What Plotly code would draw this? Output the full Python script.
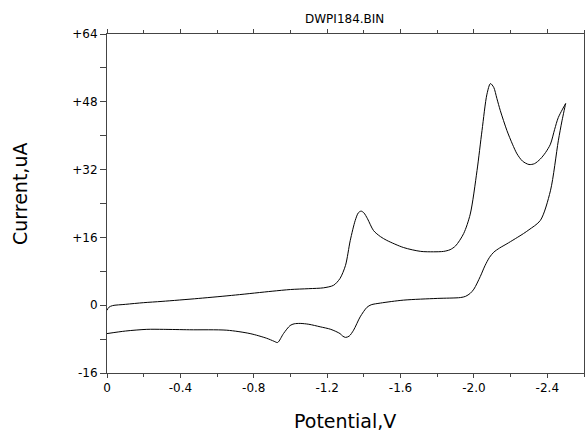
import plotly.graph_objects as go

# Forward scan (0 V -> -2.5 V)
fwd_potential = [0, -0.01, -0.03, -0.1, -0.2, -0.3, -0.5, -0.7, -0.9, -1.0, -1.1, -1.18, -1.235,
                 -1.27, -1.30, -1.326, -1.353, -1.37, -1.385, -1.40, -1.42, -1.453, -1.49, -1.525,
                 -1.617, -1.71, -1.78, -1.835, -1.87, -1.90, -1.944, -1.98, -2.017, -2.044,
                 -2.071, -2.09, -2.108, -2.125, -2.144, -2.18, -2.21, -2.235, -2.265, -2.30,
                 -2.33, -2.362, -2.39, -2.417, -2.44, -2.46, -2.50]
fwd_current = [-1.2, -0.5, -0.1, 0.2, 0.6, 0.9, 1.6, 2.4, 3.3, 3.7, 3.9, 4.1, 4.7,
               6.3, 9.4, 15.3, 20.0, 21.8, 22.2, 21.8, 20.4, 17.6, 16.2, 15.3,
               13.6, 12.7, 12.6, 12.7, 13.1, 14.0, 16.9, 21.5, 31.8, 41.2,
               49.8, 52.3, 51.4, 48.8, 45.9, 41.2, 38.0, 35.7, 34.0, 33.2,
               33.4, 34.5, 36.0, 38.0, 41.5, 44.3, 47.6]

# Reverse scan (-2.5 V -> 0 V)
rev_potential = [-2.50, -2.48, -2.46, -2.417, -2.362, -2.30, -2.27, -2.18, -2.14, -2.108, -2.085,
                 -2.06, -2.035, -2.00, -1.98, -1.955, -1.926, -1.80, -1.617, -1.49, -1.44, -1.417,
                 -1.38, -1.344, -1.32, -1.30, -1.285, -1.27, -1.22, -1.162, -1.10, -1.053, -1.02,
                 -0.998, -0.962, -0.93, -0.91, -0.87, -0.78, -0.653, -0.45, -0.307, -0.217, -0.1, 0]
rev_current = [47.6, 43.5, 38.8, 27.0, 20.0, 17.8, 16.9, 14.5, 13.5, 12.5, 11.3,
               9.3, 6.8, 3.8, 2.8, 2.1, 1.8, 1.6, 1.2, 0.5, 0.1, -0.5,
               -2.75, -5.9, -7.3, -7.6, -7.3, -6.7, -5.7, -5.1, -4.5, -4.3, -4.4,
               -4.8, -6.7, -8.8, -8.5, -7.8, -6.7, -5.9, -5.8, -5.7, -5.7, -6.1, -6.7]

x_tick_vals = [0, -0.4, -0.8, -1.2, -1.6, -2.0, -2.4]
x_tick_text = ["0", "-0.4", "-0.8", "-1.2", "-1.6", "-2.0", "-2.4"]
y_tick_vals = [-16, 0, 16, 32, 48, 64]
y_tick_text = ["-16", "0", "+16", "+32", "+48", "+64"]

title_text = "DWPI184.BIN"
x_title = "Potential,V"
y_title = "Current,uA"

W, H = 587, 432
L, R, T, B = 107, 3, 34, 59

fig = go.Figure()
fig.add_trace(go.Scatter(x=fwd_potential + rev_potential, y=fwd_current + rev_current,
                         mode="lines", line=dict(color="black", width=1, shape="spline", smoothing=0.8),
                         hoverinfo="skip", showlegend=False))

font_family = "DejaVu Sans, Liberation Sans, Arial, sans-serif"
axis_col = "#444444"

plot_w = W - L - R
plot_h = H - T - B
def px_to_paper(px, py):
    return (px - L) / plot_w, (H - B - py) / plot_h

tx, ty = px_to_paper(344, 19)
ax_, ay_ = px_to_paper(345, 421)
bx, by = px_to_paper(20, 194)

fig.update_layout(
    width=W, height=H,
    margin=dict(l=L, r=R, t=T, b=B, autoexpand=False),
    paper_bgcolor="white", plot_bgcolor="white",
    showlegend=False,
    font=dict(family=font_family, color="black"),
    xaxis=dict(range=[0, -2.6], autorange=False, showgrid=False, zeroline=False,
               showline=True, linecolor=axis_col, linewidth=1, mirror="ticks",
               ticks="outside", ticklen=4, tickcolor=axis_col, tickwidth=1,
               tickvals=x_tick_vals, ticktext=x_tick_text,
               tickfont=dict(size=12, family=font_family, color="black"),
               minor=dict(dtick=0.2, tick0=0, ticks="outside", ticklen=3, tickcolor=axis_col)),
    yaxis=dict(range=[-16, 64], autorange=False, showgrid=False, zeroline=False,
               showline=True, linecolor=axis_col, linewidth=1, mirror=True,
               ticks="outside", ticklen=6, tickcolor=axis_col, tickwidth=1,
               tickvals=y_tick_vals, ticktext=y_tick_text,
               tickfont=dict(size=12, family=font_family, color="black"),
               minor=dict(dtick=8, tick0=0, ticks="outside", ticklen=6, tickcolor=axis_col)),
    yaxis2=dict(range=[-16, 64], autorange=False, overlaying="y", side="right",
                showgrid=False, zeroline=False, showline=False,
                ticks="inside", ticklen=3, tickcolor=axis_col, dtick=8, tick0=0,
                showticklabels=False),
    annotations=[
        dict(text=title_text, x=tx, y=ty, xref="paper", yref="paper", xanchor="center",
             yanchor="middle", showarrow=False, font=dict(size=12, family=font_family)),
        dict(text=x_title, x=ax_, y=ay_, xref="paper", yref="paper", xanchor="center",
             yanchor="middle", showarrow=False, font=dict(size=19, family=font_family)),
        dict(text=y_title, x=bx, y=by, xref="paper", yref="paper", xanchor="center",
             yanchor="middle", showarrow=False, textangle=-90,
             font=dict(size=19, family=font_family)),
    ],
)

fig.write_html("out.html", config={"displayModeBar": False},
               post_script="document.body.style.margin='0';")
